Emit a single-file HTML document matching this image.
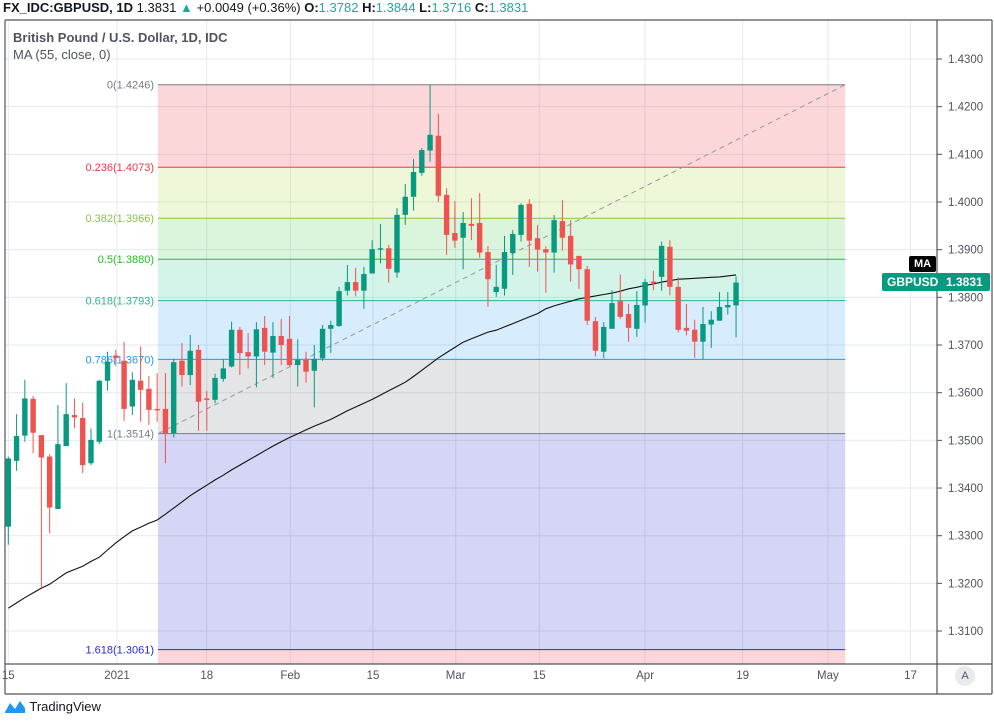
<!DOCTYPE html>
<html><head><meta charset="utf-8"><style>
html,body{margin:0;padding:0;background:#fff;width:994px;height:724px;overflow:hidden;font-family:"Liberation Sans",sans-serif}
svg text{font-family:"Liberation Sans",sans-serif}
</style></head><body>
<svg id="chart" width="994" height="724" xmlns="http://www.w3.org/2000/svg">
<g id="grid"></g>
<g id="fib"></g>
<g id="ma"></g>
<g id="candles"></g>
<g id="axes"></g>
</svg>
<script>
const opens=[1.3319,1.3457,1.3510,1.3587,1.3511,1.3466,1.3356,1.3488,1.3553,1.3547,1.3452,1.3497,1.3625,1.3678,1.3667,1.3571,1.3625,1.3608,1.3566,1.3566,1.3515,1.3667,1.3637,1.3690,1.3588,1.3585,1.3629,1.3655,1.3732,1.3685,1.3676,1.3736,1.3684,1.3719,1.3713,1.3658,1.3669,1.3646,1.3672,1.3734,1.3740,1.3814,1.3832,1.3814,1.3850,1.3901,1.3903,1.3852,1.3973,1.4011,1.4061,1.4108,1.4139,1.4015,1.3935,1.3925,1.3954,1.3956,1.3895,1.3811,1.3818,1.3893,1.3931,1.3996,1.3924,1.3901,1.3894,1.3960,1.3929,1.3887,1.3859,1.3750,1.3686,1.3734,1.3792,1.3765,1.3734,1.3783,1.3833,1.3843,1.3906,1.3822,1.3736,1.3732,1.3707,1.3743,1.3751,1.3779,1.3783];
const highs=[1.3466,1.3555,1.3627,1.3593,1.3511,1.3471,1.3574,1.3620,1.3588,1.3579,1.3525,1.3627,1.3686,1.3690,1.3707,1.3643,1.3697,1.3635,1.3641,1.3641,1.3671,1.3704,1.3721,1.3700,1.3604,1.3640,1.3670,1.3749,1.3738,1.3725,1.3748,1.3761,1.3748,1.3755,1.3761,1.3712,1.3686,1.3700,1.3742,1.3751,1.3822,1.3868,1.3862,1.3864,1.3920,1.3954,1.3910,1.3987,1.4038,1.4090,1.4113,1.4246,1.4185,1.4029,1.4002,1.3979,1.4008,1.4019,1.3908,1.3868,1.3929,1.3941,1.3997,1.4006,1.3952,1.3907,1.3973,1.4004,1.3962,1.3887,1.3866,1.3759,1.3748,1.3815,1.3848,1.3786,1.3813,1.3839,1.3856,1.3917,1.3920,1.3842,1.3786,1.3753,1.3780,1.3771,1.3811,1.3811,1.3844];
const lows=[1.3281,1.3436,1.3497,1.3473,1.3190,1.3305,1.3356,1.3488,1.3525,1.3431,1.3448,1.3492,1.3604,1.3660,1.3541,1.3553,1.3539,1.3532,1.3539,1.3452,1.3506,1.3613,1.3616,1.3520,1.3520,1.3578,1.3623,1.3653,1.3637,1.3651,1.3611,1.3658,1.3631,1.3658,1.3656,1.3613,1.3621,1.3569,1.3667,1.3683,1.3738,1.3804,1.3802,1.3776,1.3850,1.3871,1.3831,1.3841,1.3952,1.3982,1.4055,1.4085,1.4000,1.3889,1.3904,1.3859,1.3920,1.3883,1.3780,1.3801,1.3804,1.3847,1.3917,1.3864,1.3854,1.3810,1.3852,1.3898,1.3833,1.3818,1.3742,1.3676,1.3672,1.3734,1.3755,1.3707,1.3717,1.3747,1.3815,1.3814,1.3804,1.3726,1.3720,1.3673,1.3670,1.3694,1.3751,1.3764,1.3716];
const closes=[1.3462,1.3509,1.3588,1.3516,1.3464,1.3359,1.3492,1.3555,1.3548,1.3448,1.3501,1.3625,1.3665,1.3673,1.3566,1.3627,1.3606,1.3564,1.3563,1.3515,1.3664,1.3637,1.3688,1.3581,1.3585,1.3631,1.3651,1.3732,1.3683,1.3676,1.3733,1.3686,1.3719,1.3700,1.3658,1.3669,1.3644,1.3671,1.3734,1.3742,1.3813,1.3832,1.3814,1.3849,1.3901,1.3903,1.3860,1.3973,1.4011,1.4063,1.4109,1.4141,1.4013,1.3931,1.3919,1.3956,1.3950,1.3894,1.3838,1.3822,1.3895,1.3933,1.3994,1.3919,1.3900,1.3894,1.3962,1.3925,1.3869,1.3859,1.3751,1.3688,1.3738,1.3788,1.3759,1.3736,1.3784,1.3832,1.3830,1.3908,1.3822,1.3732,1.3730,1.3707,1.3744,1.3753,1.3780,1.3784,1.3831];
const maValues=[1.3148,1.3159,1.3170,1.3180,1.3190,1.3198,1.3210,1.3222,1.3229,1.3236,1.3246,1.3255,1.3270,1.3285,1.3298,1.3310,1.3318,1.3326,1.3333,1.3345,1.3358,1.3371,1.3384,1.3395,1.3406,1.3417,1.3427,1.3438,1.3448,1.3458,1.3468,1.3478,1.3488,1.3497,1.3506,1.3514,1.3522,1.3530,1.3537,1.3544,1.3553,1.3562,1.3570,1.3578,1.3586,1.3595,1.3604,1.3613,1.3622,1.3634,1.3647,1.3660,1.3673,1.3684,1.3695,1.3706,1.3713,1.3720,1.3727,1.3731,1.3738,1.3745,1.3752,1.3759,1.3766,1.3776,1.3782,1.3787,1.3792,1.3797,1.3800,1.3803,1.3806,1.3809,1.3813,1.3818,1.3821,1.3825,1.3828,1.3832,1.3835,1.3838,1.3839,1.3840,1.3841,1.3842,1.3843,1.3845,1.3847];
const priceTicks=[1.43,1.42,1.41,1.40,1.39,1.38,1.37,1.36,1.35,1.34,1.33,1.32,1.31];
const timeLabels=["15","2021","18","Feb","15","Mar","15","Apr","19","May","17"];
const timeIdx=[0,13.15,24,34.1,44.1,54.1,64.2,77,88.8,99.1,109.1];
const fibRatios=[0,0.236,0.382,0.5,0.618,0.786,1,1.618];
const fibPrices=[1.4246,1.4073,1.3966,1.3880,1.3793,1.3670,1.3514,1.3061];
const fibStartIdx=18.1, fibEndIdx=101.2;

const NS="http://www.w3.org/2000/svg";
function y(p){return 59+(1.43-p)*4767;}
function x(i){return 8.3+i*8.27;}
function mk(tag,attrs,parent,txt){const e=document.createElementNS(NS,tag);for(const k in attrs)e.setAttribute(k,attrs[k]);if(txt!==undefined)e.textContent=txt;parent.appendChild(e);return e;}
const PL=5,PR=937,PT=20,PB=664;
const grid=document.getElementById('grid'),fib=document.getElementById('fib'),ma=document.getElementById('ma'),cg=document.getElementById('candles'),ax=document.getElementById('axes');

priceTicks.forEach(p=>{const l=mk('line',{x1:PL,x2:PR,y1:y(p),y2:y(p),stroke:'#e3eaf0','stroke-width':1},grid);

});
timeIdx.forEach(i=>{const l=mk('line',{x1:x(i),x2:x(i),y1:PT,y2:PB,stroke:'#e3eaf0','stroke-width':1},grid);

});

const zoneFill=['rgba(242,54,69,0.2)','rgba(168,214,60,0.2)','rgba(76,200,80,0.2)','rgba(38,200,150,0.2)','rgba(33,150,243,0.18)','rgba(120,123,134,0.2)','rgba(63,63,210,0.22)'];
const lineCol=['#787b86','#f23645','#8bc34a','#21c021','#2bb58d','#2196f3','#787b86','#2929d6'];
const fx1=x(fibStartIdx),fx2=x(fibEndIdx);
const bz=mk('rect',{x:fx1,y:y(fibPrices[7]),width:fx2-fx1,height:PB-y(fibPrices[7]),fill:'rgba(242,54,69,0.2)'},fib);


for(let k=0;k<fibPrices.length-1;k++){const y1=y(fibPrices[k]),y2=y(fibPrices[k+1]);
const r=mk('rect',{x:fx1,y:y1,width:fx2-fx1,height:y2-y1,fill:zoneFill[k]},fib);

}
fibRatios.forEach((r,k)=>{const p=fibPrices[k],yy=y(p);
const l=mk('line',{x1:fx1,x2:fx2,y1:yy,y2:yy,stroke:lineCol[k],'stroke-width':1},fib);


const t=mk('text',{x:fx1-4,y:yy+4,'text-anchor':'end','font-size':11,fill:lineCol[k]},fib,r+'('+p.toFixed(4)+')');

});
const tl=mk('line',{x1:fx1,y1:y(fibPrices[6]),x2:fx2,y2:y(fibPrices[0]),stroke:'#9598a1','stroke-width':1,'stroke-dasharray':'5,4'},fib);



const pts=maValues.map((v,i)=>x(i).toFixed(1)+','+y(v).toFixed(1)).join(' ');
const pl=mk('polyline',{points:pts,fill:'none',stroke:'#111','stroke-width':1.1},ma);



opens.forEach((o,i)=>{const c=closes[i],up=c>=o,col=up?'#089981':'#ef5350',cx=x(i);
const g=mk('g',{},cg);


mk('line',{x1:cx,x2:cx,y1:y(highs[i]),y2:y(lows[i]),stroke:col,'stroke-width':1},g);
const top=y(Math.max(o,c)),h=Math.max(1.5,Math.abs(y(o)-y(c)));
mk('rect',{x:cx-2.7,y:top,width:5.4,height:h,fill:col},g);});

const fr=[[PL,PT,992,PT],[PL,PT,PL,694],[992,PT,992,694],[PL,694,992,694],[PL,PB,992,PB],[PR,PT,PR,694]];
fr.forEach(a=>{const l=mk('line',{x1:a[0],y1:a[1],x2:a[2],y2:a[3],stroke:'#50535e','stroke-width':1.2},ax);

});
priceTicks.forEach(p=>{const yy=y(p);
const tk=mk('line',{x1:PR,x2:PR+5,y1:yy,y2:yy,stroke:'#50535e'},ax);


const t=mk('text',{x:948,y:yy+4,'font-size':11.5,fill:'#50535e'},ax,p.toFixed(4));

});
timeIdx.forEach((i,k)=>{const t=mk('text',{x:x(i),y:679,'text-anchor':'middle','font-size':11.5,fill:'#50535e'},ax,timeLabels[k]);

});
</script>
<div style="position:absolute;left:3px;top:0px;font-size:13px;color:#131722;white-space:nowrap"><b>FX_IDC:GBPUSD, 1D</b> 1.3831 <span style="color:#26a69a">▲</span> +0.0049 (+0.36%) <b>O:</b><span style="color:#26a69a">1.3782</span> <b>H:</b><span style="color:#26a69a">1.3844</span> <b>L:</b><span style="color:#26a69a">1.3716</span> <b>C:</b><span style="color:#26a69a">1.3831</span></div>
<div style="position:absolute;left:13px;top:30px;font-size:13px;font-weight:bold;color:#50535e">British Pound / U.S. Dollar, 1D, IDC</div>
<div style="position:absolute;left:13px;top:47px;font-size:13px;color:#50535e">MA (55, close, 0)</div>
<div style="position:absolute;left:909px;top:256px;width:27px;height:16px;background:#000;color:#fff;font-size:11px;font-weight:bold;text-align:center;line-height:16px;border-radius:2px">MA</div>
<div style="position:absolute;left:882px;top:273px;width:108px;height:18px;background:#089981;color:#fff;font-size:12px;font-weight:bold;line-height:18px;border-radius:2px"><span style="margin-left:5px">GBPUSD</span><span style="position:absolute;left:64px">1.3831</span></div>
<div style="position:absolute;left:955px;top:666px;width:20px;height:20px;border-radius:10px;background:#e8eaee;color:#50535e;font-size:11px;text-align:center;line-height:20px">A</div>
<div style="position:absolute;left:4px;top:698px;font-size:13px;color:#131722;white-space:nowrap"><svg width="22" height="16" viewBox="0 0 22 16" style="vertical-align:-3px"><path d="M1 14 L6 5 L11 11 L16 3 L21 10 L21 15 L1 15Z" fill="#2196f3"/></svg> TradingView</div>
</body></html>
